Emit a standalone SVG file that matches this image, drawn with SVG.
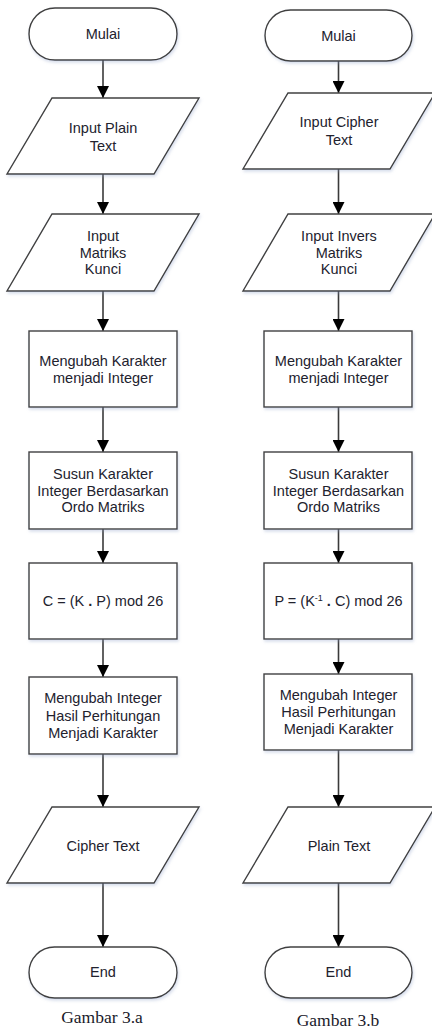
<svg xmlns="http://www.w3.org/2000/svg" width="432" height="1028" viewBox="0 0 432 1028">
<style>
.shape{fill:#ffffff;stroke:#404040;stroke-width:1.4;filter:url(#sh)}
.t{font-family:"Liberation Sans",Arial,sans-serif;font-size:14.5px;fill:#22222e;text-anchor:middle}
.cap{font-family:"Liberation Serif","Times New Roman",serif;font-size:17.5px;fill:#1a1a2a;text-anchor:middle}
.c{stroke:#3a3a3a;stroke-width:1.6;fill:none;marker-end:url(#ah)}
</style>
<defs>
<filter id="sh" x="-10%" y="-10%" width="125%" height="130%">
<feDropShadow dx="1" dy="2" stdDeviation="1.5" flood-color="#8fa0c8" flood-opacity="0.35"/>
</filter>
<marker id="ah" markerUnits="userSpaceOnUse" markerWidth="12" markerHeight="12" refX="12" refY="6" orient="auto">
<path d="M0,0 L12,6 L0,12 Z" fill="#000"/>
</marker>
</defs>
<rect width="432" height="1028" fill="#ffffff"/>
<g id="connectors">
<line class="c" x1="103" y1="60" x2="103" y2="98"/>
<line class="c" x1="103" y1="174" x2="103" y2="214"/>
<line class="c" x1="103" y1="291" x2="103" y2="331"/>
<line class="c" x1="103" y1="407" x2="103" y2="452"/>
<line class="c" x1="103" y1="529" x2="103" y2="563"/>
<line class="c" x1="103" y1="639" x2="103" y2="677"/>
<line class="c" x1="103" y1="754" x2="103" y2="807"/>
<line class="c" x1="103" y1="883" x2="103" y2="947"/>
<line class="c" x1="338.5" y1="61" x2="338.5" y2="93"/>
<line class="c" x1="338.5" y1="169" x2="338.5" y2="214"/>
<line class="c" x1="338.5" y1="291" x2="338.5" y2="331"/>
<line class="c" x1="338.5" y1="407" x2="338.5" y2="452"/>
<line class="c" x1="338.5" y1="529" x2="338.5" y2="563"/>
<line class="c" x1="338.5" y1="639" x2="338.5" y2="674"/>
<line class="c" x1="338.5" y1="750" x2="338.5" y2="807"/>
<line class="c" x1="338.5" y1="883" x2="338.5" y2="947"/>
</g>
<g id="a-start"><rect class="shape" x="29" y="8" width="148" height="52" rx="26"/><text class="t" x="103" y="39">Mulai</text></g>
<g id="a-input-plain"><polygon class="shape" points="52,98 199,98 154,174 7,174"/><text class="t" x="103" y="133">Input Plain</text><text class="t" x="103" y="151">Text</text></g>
<g id="a-input-key"><polygon class="shape" points="52,214 199,214 154,291 7,291"/><text class="t" x="103" y="241">Input</text><text class="t" x="103" y="257.5">Matriks</text><text class="t" x="103" y="274">Kunci</text></g>
<g id="a-char2int"><rect class="shape" x="29" y="331" width="148" height="76"/><text class="t" x="103" y="366">Mengubah Karakter</text><text class="t" x="103" y="383">menjadi Integer</text></g>
<g id="a-arrange"><rect class="shape" x="29" y="452" width="148" height="77"/><text class="t" x="103" y="479">Susun Karakter</text><text class="t" x="103" y="495.5">Integer Berdasarkan</text><text class="t" x="103" y="512">Ordo Matriks</text></g>
<g id="a-encrypt"><rect class="shape" x="29" y="563" width="148" height="76"/><text class="t" x="103" y="606">C = (K <tspan font-weight="bold">.</tspan> P) mod 26</text></g>
<g id="a-int2char"><rect class="shape" x="29" y="677" width="148" height="77"/><text class="t" x="103" y="703">Mengubah Integer</text><text class="t" x="103" y="720.5">Hasil Perhitungan</text><text class="t" x="103" y="738">Menjadi Karakter</text></g>
<g id="a-output"><polygon class="shape" points="52,807 199,807 154,883 7,883"/><text class="t" x="103" y="851">Cipher Text</text></g>
<g id="a-end"><rect class="shape" x="29" y="947" width="148" height="51" rx="25.5"/><text class="t" x="103" y="977">End</text></g>
<text class="cap" x="102" y="1023">Gambar 3.a</text>
<g id="b-start"><rect class="shape" x="265" y="10" width="147" height="51" rx="25.5"/><text class="t" x="338.5" y="41">Mulai</text></g>
<g id="b-input-cipher"><polygon class="shape" points="288,93 435,93 390,169 243,169"/><text class="t" x="339" y="127">Input Cipher</text><text class="t" x="339" y="145">Text</text></g>
<g id="b-input-key"><polygon class="shape" points="288,214 435,214 390,291 243,291"/><text class="t" x="339" y="241">Input Invers</text><text class="t" x="339" y="257.5">Matriks</text><text class="t" x="339" y="274">Kunci</text></g>
<g id="b-char2int"><rect class="shape" x="264" y="331" width="148" height="76"/><text class="t" x="338.5" y="366">Mengubah Karakter</text><text class="t" x="338.5" y="383">menjadi Integer</text></g>
<g id="b-arrange"><rect class="shape" x="264" y="452" width="148" height="77"/><text class="t" x="338.5" y="479">Susun Karakter</text><text class="t" x="338.5" y="495.5">Integer Berdasarkan</text><text class="t" x="338.5" y="512">Ordo Matriks</text></g>
<g id="b-decrypt"><rect class="shape" x="264" y="563" width="148" height="76"/><text class="t" x="338.5" y="606">P = (K<tspan font-size="9" dy="-5">-1</tspan><tspan dy="5"> </tspan><tspan font-weight="bold">.</tspan> C) mod 26</text></g>
<g id="b-int2char"><rect class="shape" x="264" y="674" width="148" height="76"/><text class="t" x="338.5" y="700">Mengubah Integer</text><text class="t" x="338.5" y="717">Hasil Perhitungan</text><text class="t" x="338.5" y="734">Menjadi Karakter</text></g>
<g id="b-output"><polygon class="shape" points="288,807 435,807 390,883 243,883"/><text class="t" x="339" y="851">Plain Text</text></g>
<g id="b-end"><rect class="shape" x="265" y="947" width="147" height="51" rx="25.5"/><text class="t" x="338.5" y="977">End</text></g>
<text class="cap" x="338" y="1026">Gambar 3.b</text>
</svg>
